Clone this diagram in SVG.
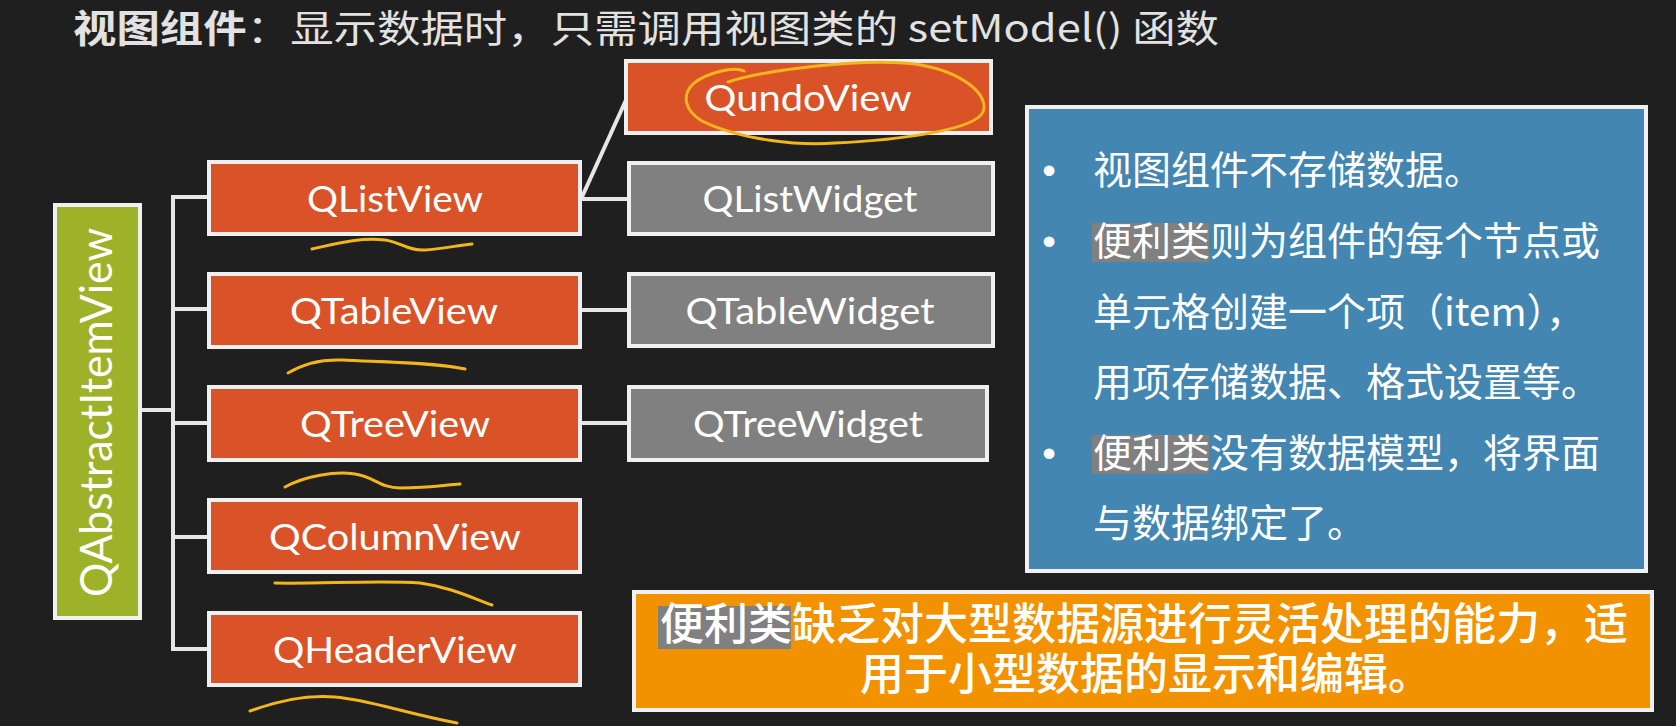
<svg xmlns="http://www.w3.org/2000/svg" width="1676" height="726" viewBox="0 0 1676 726">
<style>
.bg{fill:#1f1f1f}
.box{stroke:#f0f0f0;stroke-width:4}
.org{fill:#DA5228}
.gry{fill:#808080}
.lbl{font-family:Lato,"Open Sans",sans-serif;font-size:36px;fill:#ffffff;text-anchor:middle}
.conn{stroke:#e6e6e6;stroke-width:4;fill:none}
.ink{stroke:#F2B51C;stroke-width:3;fill:none;stroke-linecap:round}
.cjk{font-family:"Noto Sans CJK SC",sans-serif;fill:#ffffff}
.hl{fill:#808080}
</style>
<rect class="bg" x="0" y="0" width="1676" height="726"/>

<text id="title" x="73" y="42" class="cjk" style="fill:#e2e2e2;font-size:38px" textLength="1146" lengthAdjust="spacingAndGlyphs"><tspan font-weight="bold">视图组件</tspan>：显示数据时，只需调用视图类的 setModel() 函数</text>

<g id="connectors">
  <line class="conn" x1="142" y1="410" x2="173" y2="410"/>
  <line class="conn" x1="173" y1="195" x2="173" y2="651"/>
  <line class="conn" x1="171" y1="197" x2="209" y2="197"/>
  <line class="conn" x1="171" y1="309" x2="209" y2="309"/>
  <line class="conn" x1="171" y1="423" x2="209" y2="423"/>
  <line class="conn" x1="171" y1="537" x2="209" y2="537"/>
  <line class="conn" x1="171" y1="649" x2="209" y2="649"/>
  <line class="conn" x1="580" y1="199" x2="629" y2="199"/>
  <line class="conn" x1="582" y1="197" x2="626" y2="100"/>
  <line class="conn" x1="580" y1="310" x2="629" y2="310"/>
  <line class="conn" x1="580" y1="423" x2="629" y2="423"/>
</g>

<g id="QAbstractItemView">
  <rect class="box" x="55" y="205" width="85" height="413" style="fill:#9DB229"/>
  <text class="lbl" transform="translate(112,597) rotate(-90)" x="0" y="0" style="text-anchor:start;font-size:44px" textLength="369" lengthAdjust="spacingAndGlyphs">QAbstractItemView</text>
</g>

<g id="QListView">
  <rect class="box org" x="209" y="162" width="371" height="72"/>
  <text class="lbl" x="395" y="212" textLength="176" lengthAdjust="spacingAndGlyphs">QListView</text>
</g>
<g id="QTableView">
  <rect class="box org" x="209" y="274" width="371" height="73"/>
  <text class="lbl" x="394" y="324" textLength="208" lengthAdjust="spacingAndGlyphs">QTableView</text>
</g>
<g id="QTreeView">
  <rect class="box org" x="209" y="387" width="371" height="73"/>
  <text class="lbl" x="395" y="437" textLength="190" lengthAdjust="spacingAndGlyphs">QTreeView</text>
</g>
<g id="QColumnView">
  <rect class="box org" x="209" y="500" width="371" height="72"/>
  <text class="lbl" x="395" y="550" textLength="252" lengthAdjust="spacingAndGlyphs">QColumnView</text>
</g>
<g id="QHeaderView">
  <rect class="box org" x="209" y="613" width="371" height="72"/>
  <text class="lbl" x="395" y="663" textLength="244" lengthAdjust="spacingAndGlyphs">QHeaderView</text>
</g>

<g id="QundoView">
  <rect class="box org" x="626" y="61" width="365" height="72"/>
  <text class="lbl" x="808" y="111" textLength="207" lengthAdjust="spacingAndGlyphs">QundoView</text>
</g>
<g id="QListWidget">
  <rect class="box gry" x="629" y="163" width="364" height="71"/>
  <text class="lbl" x="810" y="212" textLength="215" lengthAdjust="spacingAndGlyphs">QListWidget</text>
</g>
<g id="QTableWidget">
  <rect class="box gry" x="629" y="274" width="364" height="72"/>
  <text class="lbl" x="810" y="324" textLength="249" lengthAdjust="spacingAndGlyphs">QTableWidget</text>
</g>
<g id="QTreeWidget">
  <rect class="box gry" x="629" y="387" width="358" height="73"/>
  <text class="lbl" x="808" y="437" textLength="230" lengthAdjust="spacingAndGlyphs">QTreeWidget</text>
</g>

<g id="notes">
  <rect class="box" x="1027" y="107" width="619" height="464" style="fill:#4286B1"/>
  <rect class="hl" x="1092" y="223" width="117" height="39"/>
  <rect class="hl" x="1092" y="435" width="117" height="39"/>
  <g class="cjk" style="font-size:39px">
    <text x="1049" y="184" style="font-family:'Liberation Sans',sans-serif;text-anchor:middle">•</text>
    <text x="1049" y="255" style="font-family:'Liberation Sans',sans-serif;text-anchor:middle">•</text>
    <text x="1049" y="467" style="font-family:'Liberation Sans',sans-serif;text-anchor:middle">•</text>
    <text x="1093" y="184">视图组件不存储数据。</text>
    <text x="1093" y="255">便利类则为组件的每个节点或</text>
    <text x="1093" y="326">单元格创建一个项（item），</text>
    <text x="1093" y="396">用项存储数据、格式设置等。</text>
    <text x="1093" y="467">便利类没有数据模型，将界面</text>
    <text x="1093" y="537">与数据绑定了。</text>
  </g>
</g>

<g id="summary">
  <rect class="box" x="634" y="592" width="1018" height="118" style="fill:#F39200"/>
  <rect class="hl" x="658" y="606" width="133" height="43"/>
  <g class="cjk" style="font-size:44px;font-weight:500">
    <text x="660" y="640">便利类缺乏对大型数据源进行灵活处理的能力，适</text>
    <text x="860" y="690">用于小型数据的显示和编辑。</text>
  </g>
</g>

<g id="annotations">
  <path class="ink" d="M312,249 C335,244 360,237 385,240 C400,242 408,251 425,250 C440,249 455,246 472,244"/>
  <path class="ink" d="M288,373 C303,364 320,359 342,360 C380,362 430,362 465,369"/>
  <path class="ink" d="M285,487 C305,476 335,471 355,474 C375,477 380,488 400,488 C430,488 445,485 460,484"/>
  <path class="ink" d="M275,583 C320,584 380,580 420,583 C450,587 470,597 492,605"/>
  <path class="ink" d="M250,711 C280,700 310,695 335,697 C370,700 400,712 457,723"/>
  <path class="ink" d="M744,71 C735,66 705,73 693,84 C682,95 684,110 702,121 C740,140 800,146 835,143 C900,140 975,130 983,112 C990,95 962,71 915,64 C860,58 765,70 728,82"/>
</g>
</svg>
